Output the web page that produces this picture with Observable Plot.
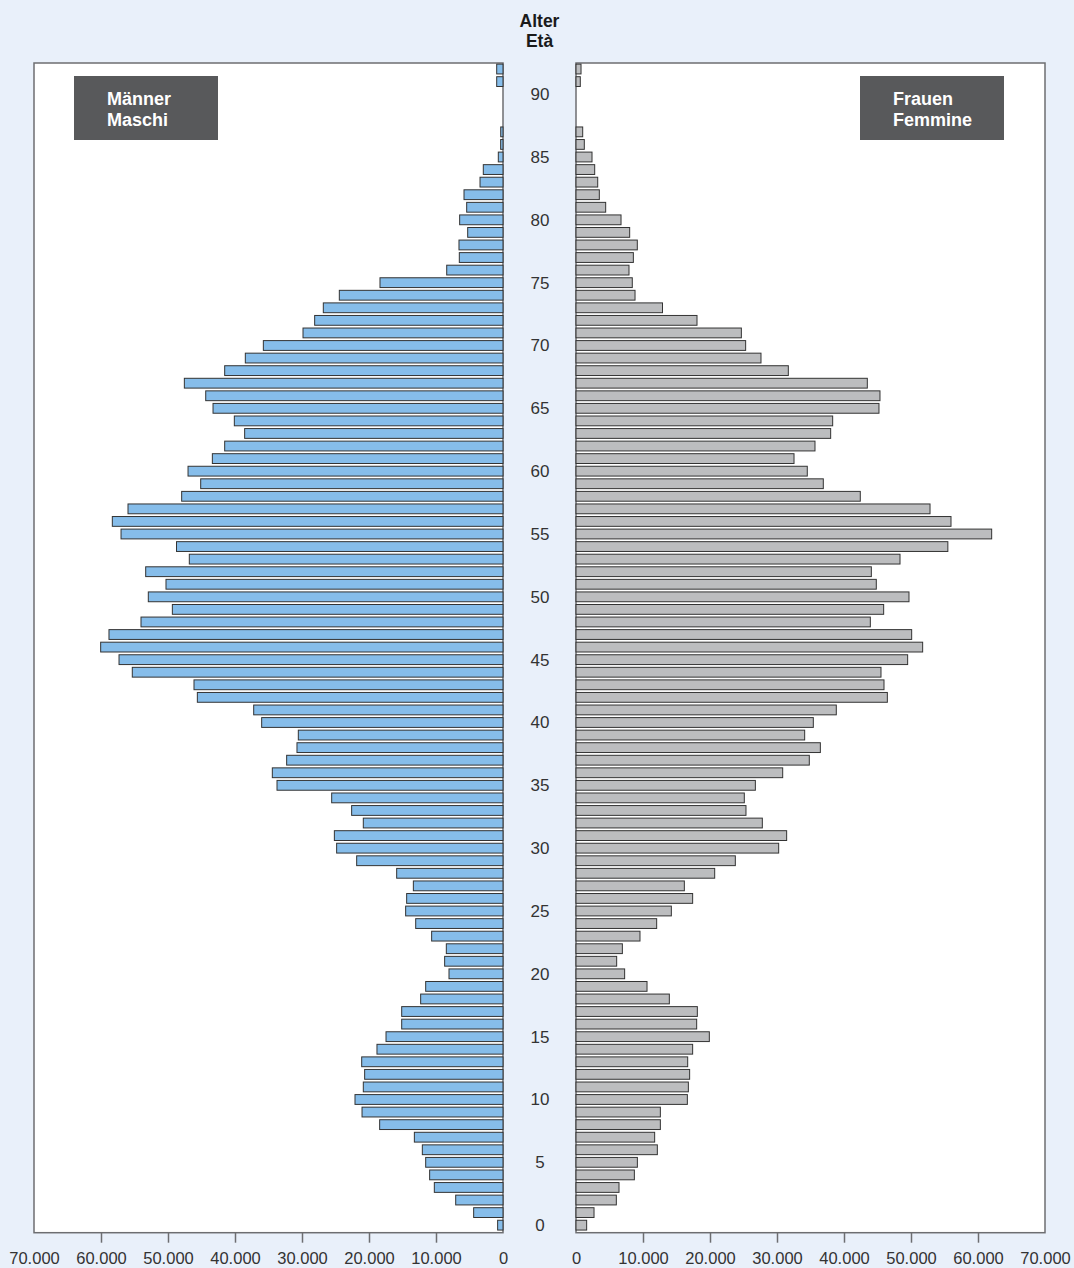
<!DOCTYPE html>
<html>
<head>
<meta charset="utf-8">
<script src="https://cdn.jsdelivr.net/npm/d3@7"></script>
<script src="https://cdn.jsdelivr.net/npm/@observablehq/plot@0.6"></script>
<style>
  html, body { margin: 0; padding: 0; background: #e9f0fa; }
  #wrap { position: relative; width: 1074px; height: 1268px; overflow: hidden; font-family: "Liberation Sans", Arial, sans-serif; }
  #wrap svg { position: absolute; left: 0; top: 0; }
  .title { position: absolute; left: 489px; width: 101px; top: 11px; text-align: center; font-weight: bold; font-size: 17.5px; line-height: 20px; color: #1a1a1a; }
  .box { position: absolute; top: 76px; width: 144px; height: 64px; background: #58595b; color: #fff; font-weight: bold; font-size: 18px; line-height: 21px; box-sizing: border-box; padding-left: 33px; padding-top: 13px; }
</style>
</head>
<body>
<div id="wrap"></div>
<script>
// ---- data ----
const ages = d3.range(0, 93);
const men = [
  800, 4380, 7060, 10250, 10950, 11540, 12040, 13230, 18410, 21040,
  22090, 20850, 20650, 21090, 18810, 17460, 15120, 15120, 12290, 11540,
  8060, 8710, 8460, 10650, 13030, 14530, 14380, 13380, 15870, 21840,
  24830, 25170, 20850, 22590, 25570, 33730, 34430, 32290, 30750, 30550,
  36020, 37210, 45620, 46120, 55330, 57310, 60050, 58810, 54030, 49350,
  52940, 50300, 53330, 46820, 48730, 57010, 58310, 55970, 47960, 45120,
  47010, 43380, 41540, 38560, 40100, 43280, 44370, 47560, 41540, 38460,
  35770, 29850, 28110, 26820, 24430, 18360, 8400, 6520, 6570, 5270,
  6470, 5420, 5820, 3430, 2940, 700, 350, 340, 0, 0,
  0, 940, 940
];
const women = [
  1590, 2690, 6020, 6420, 8710, 9160, 12140, 11740, 12590, 12590,
  16620, 16770, 16960, 16670, 17410, 19900, 18010, 18110, 13930, 10600,
  7260, 6070, 6920, 9550, 12040, 14230, 17410, 16170, 20700, 23780,
  30250, 31440, 27810, 25370, 25120, 26770, 30850, 34820, 36470, 34130,
  35420, 38850, 46470, 45970, 45520, 49500, 51740, 50100, 43930, 45920,
  49700, 44820, 44080, 48360, 55500, 62040, 55970, 52840, 42430, 36910,
  34520, 32540, 35670, 38010, 38310, 45220, 45370, 43480, 31690, 27610,
  25320, 24680, 18060, 12910, 8810, 8400, 7910, 8560, 9150, 8010,
  6720, 4430, 3480, 3240, 2790, 2390, 1240, 1000, 0, 0,
  0, 640, 750
];
const ageTicks = d3.range(0, 91, 5);
const xTicks = d3.range(0, 70001, 10000);
const titleLines = ["Alter", "Età"];
const legendMen = ["Männer", "Maschi"];
const legendWomen = ["Frauen", "Femmine"];

// ---- layout ----
const MAX = 70000;
const G = 5448;             // half gap between the two panels, in data units
const Y0 = -0.6, Y1 = 92.48; // age extent of the panels
const PX_PER_AGE = (1232.7 - 63) / (Y1 - Y0);
const TICK_LEN = 10 / PX_PER_AGE;
const fmt = d => d3.format(",")(d).replace(/,/g, ".");

const table = ages.map((a, i) => ({age: a, m: men[i], f: women[i]}));
const menRows = table.filter(d => d.m > 0);
const womenRows = table.filter(d => d.f > 0);

const chart = Plot.plot({
  width: 1074,
  height: 1268,
  marginTop: 63, marginBottom: 35.3, marginLeft: 34, marginRight: 29,
  x: {domain: [-(MAX + G), MAX + G], range: [34, 1045], axis: null},
  y: {domain: [Y0, Y1], range: [1232.7, 63], axis: null},
  style: {background: "#e9f0fa", fontFamily: "Liberation Sans, Arial, sans-serif", overflow: "visible"},
  marks: [
    // panels
    Plot.rect([0], {x1: () => -(MAX + G), x2: () => -G, y1: () => Y0, y2: () => Y1, fill: "white", stroke: "#6d6e71", strokeWidth: 1.5}),
    Plot.rect([0], {x1: () => G, x2: () => MAX + G, y1: () => Y0, y2: () => Y1, fill: "white", stroke: "#6d6e71", strokeWidth: 1.5}),
    // bars
    Plot.rect(menRows, {x1: () => -G, x2: d => -G - d.m, y1: d => d.age - 0.39, y2: d => d.age + 0.39, fill: "#86bdea", stroke: "#333", strokeWidth: 1}),
    Plot.rect(womenRows, {x1: () => G, x2: d => G + d.f, y1: d => d.age - 0.39, y2: d => d.age + 0.39, fill: "#bcbdbf", stroke: "#333", strokeWidth: 1}),
    // age labels
    Plot.text(ageTicks, {x: () => 0, y: d => d, text: d => String(d), fontSize: 17, fill: "#333"}),
    // x tick marks
    Plot.ruleX(xTicks.filter(d => d > 0 && d < MAX), {x: d => -G - d, y1: () => Y0, y2: () => Y0 - TICK_LEN, stroke: "#6d6e71", strokeWidth: 1.5}),
    Plot.ruleX(xTicks.filter(d => d > 0 && d < MAX), {x: d => G + d, y1: () => Y0, y2: () => Y0 - TICK_LEN, stroke: "#6d6e71", strokeWidth: 1.5}),
    // x tick labels
    Plot.text(xTicks, {x: d => -G - d, y: () => Y0, dy: 26, text: fmt, fontSize: 16.5, fill: "#333"}),
    Plot.text(xTicks, {x: d => G + d, y: () => Y0, dy: 26, text: fmt, fontSize: 16.5, fill: "#333"})
  ]
});

const wrap = document.getElementById("wrap");
wrap.appendChild(chart);

const t = document.createElement("div");
t.className = "title";
t.innerHTML = titleLines.join("<br>");
wrap.appendChild(t);

const b1 = document.createElement("div");
b1.className = "box";
b1.style.left = "74px";
b1.innerHTML = legendMen.join("<br>");
wrap.appendChild(b1);

const b2 = document.createElement("div");
b2.className = "box";
b2.style.left = "860px";
b2.innerHTML = legendWomen.join("<br>");
wrap.appendChild(b2);
</script>
</body>
</html>
